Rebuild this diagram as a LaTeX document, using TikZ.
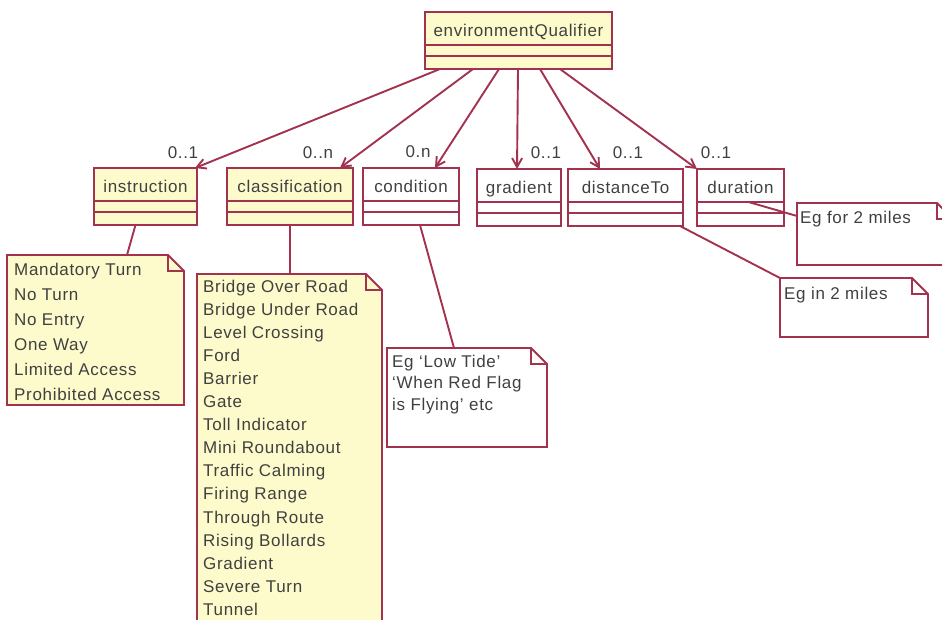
\documentclass[tikz,border=0pt]{standalone}
\usepackage{fontspec}
\setmainfont{Liberation Sans}[LetterSpace=4.0]
\usetikzlibrary{positioning,arrows.meta}
\definecolor{umlfill}{HTML}{FDFBCB}
\definecolor{umlred}{HTML}{A3324E}
\definecolor{umltext}{HTML}{404040}
\tikzset{
  cls/.style={draw=umlred, line width=1.9pt, rectangle, inner sep=0pt, outer sep=0pt, minimum height=33pt, text=umltext, text height=17pt, text depth=1pt},
  comp/.style={draw=umlred, line width=1.9pt, rectangle, inner sep=0pt, outer sep=0pt, text height=0pt, text depth=0pt},
  assoc/.style={draw=umlred, line width=1.9pt, -{Straight Barb[length=9pt,width=10pt]}},
  link/.style={draw=umlred, line width=1.9pt},
  notebd/.style={draw=umlred, line width=1.9pt, line join=miter},
  txt/.style={text=umltext, inner sep=0pt, anchor=base west},
  mult/.style={text=umltext, inner sep=0pt}
}
% note with folded corner: fill, x1, y1, x2, y2
\newcommand{\notebox}[5]{%
  \draw[notebd, fill=#1] (#2,#3) -- ({#4-16},#3) -- (#4,{#3+16}) -- (#4,#5) -- (#2,#5) -- cycle;
  \draw[notebd] ({#4-16},#3) -- ({#4-16},{#3+16}) -- (#4,{#3+16});}
\begin{document}
\begin{tikzpicture}[x=1pt,y=-1pt,font=\fontsize{17}{20}\selectfont]
\useasboundingbox (0,0) rectangle (942,619);
\clip (0,0) rectangle (942,619);
% classes
\foreach \n/\x/\y/\w/\f/\t in {env/425/12/187/umlfill/environmentQualifier,
    instr/94/168/103/umlfill/instruction, classif/227/168/126/umlfill/classification,
    cond/363/168/96/white/condition, grad/477/169/84/white/gradient,
    dist/568/169/115/white/distanceTo, dur/697/169/87/white/duration}{
  \node[cls, fill=\f, minimum width=\w pt, anchor=north west] (\n) at (\x,\y) {\t};
  \node[comp, fill=\f, minimum width=\w pt, minimum height=11pt, below=0pt of \n] (\n-a) {};
  \node[comp, fill=\f, minimum width=\w pt, minimum height=13pt, below=0pt of \n-a] (\n-b) {};
}
% associations
\draw[assoc] ([xshift=-78.5pt]env-b.south) -- ([xshift=-2pt]instr.north east) node[mult, at end, xshift=-12pt, yshift=15pt] {0..1};
\draw[assoc] ([xshift=-45.5pt]env-b.south) -- ([xshift=-13pt]classif.north east) node[mult, at end, xshift=-22pt, yshift=15pt] {0..n};
\draw[assoc] ([xshift=-19.5pt]env-b.south) -- ([xshift=-24pt]cond.north east) node[mult, at end, xshift=-17pt, yshift=16pt] {0.n};
\draw[assoc] ([xshift=-0.5pt]env-b.south) -- ([xshift=-2pt]grad.north) node[mult, at end, xshift=29pt, yshift=16pt] {0..1};
\draw[assoc] ([xshift=21.5pt]env-b.south) -- ([xshift=32pt]dist.north west) node[mult, at end, xshift=28pt, yshift=16pt] {0..1};
\draw[assoc] ([xshift=41.5pt]env-b.south) -- (dur.north west) node[mult, at end, xshift=19pt, yshift=16pt] {0..1};
% notes
\notebox{umlfill}{7}{255}{184}{405}
\notebox{umlfill}{197}{274}{382}{640}
\notebox{white}{387}{348}{547}{447}
\notebox{white}{797}{203}{953}{265}
\notebox{white}{780}{278}{928}{337}
\coordinate (instr-note) at (127,255);
\coordinate (classif-note) at (290,274);
\coordinate (cond-note) at (454,348);
\coordinate (dur-note) at (797,216);
\coordinate (dist-note) at (780,278);
\draw[link] ([xshift=-10pt]instr-b.south) -- (instr-note);
\draw[link] (classif-b.south) -- (classif-note);
\draw[link] ([xshift=9pt]cond-b.south) -- (cond-note);
\draw[link] ([xshift=8pt]dur.south) -- (dur-note);
\draw[link] ([xshift=-3pt]dist-b.south east) -- (dist-note);
% note texts
\foreach \t [count=\i] in {Mandatory Turn, No Turn, No Entry, One Way, Limited Access, Prohibited Access}
  \node[txt] (ins-\i) at (14,{275+25*(\i-1)}) {\t};
\foreach \t [count=\i] in {Bridge Over Road, Bridge Under Road, Level Crossing, Ford, Barrier, Gate,
    Toll Indicator, Mini Roundabout, Traffic Calming, Firing Range, Through Route,
    Rising Bollards, Gradient, Severe Turn, Tunnel}
  \node[txt] (cls-\i) at (203,{292+23.1*(\i-1)}) {\t};
\foreach \t [count=\i] in {Eg ‘Low Tide’, ‘When Red Flag, is Flying’ etc}
  \node[txt] (con-\i) at (392,{367+21.5*(\i-1)}) {\t};
\node[txt] (dur-txt) at (800,223) {Eg for 2 miles};
\node[txt] (dist-txt) at (784,299) {Eg in 2 miles};
\end{tikzpicture}
\end{document}
